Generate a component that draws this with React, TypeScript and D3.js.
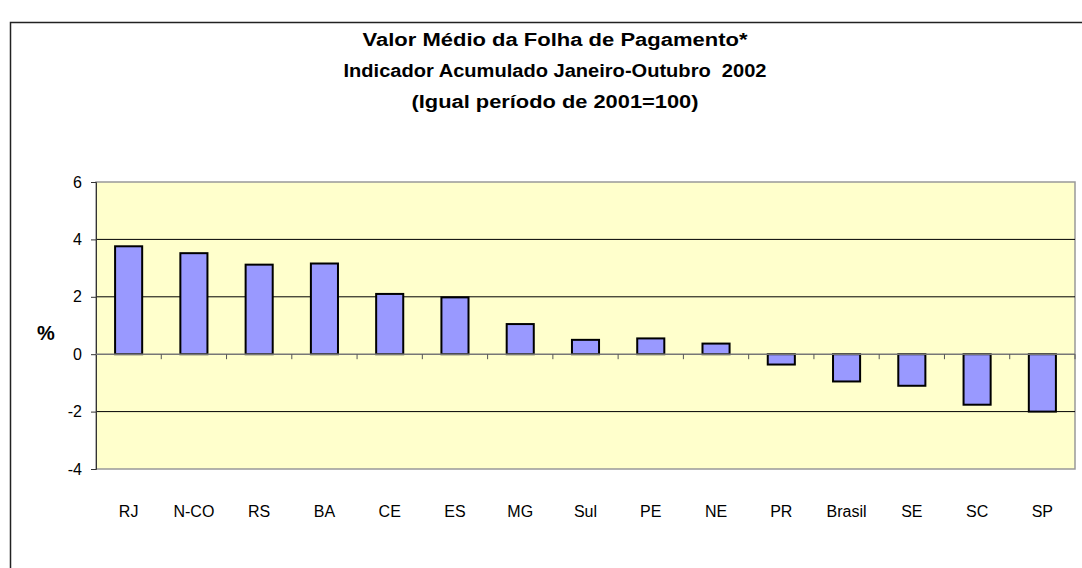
import * as d3 from 'd3';
import { useEffect, useRef } from 'react';

// regions, in the order shown
const categories = ['RJ', 'N-CO', 'RS', 'BA', 'CE', 'ES', 'MG', 'Sul', 'PE', 'NE', 'PR', 'Brasil', 'SE', 'SC', 'SP'];
// accumulated variation (%)
const values = [3.76, 3.52, 3.12, 3.16, 2.1, 1.98, 1.05, 0.5, 0.55, 0.37, -0.36, -0.95, -1.1, -1.76, -2.0];
const yTicks = [-4, -2, 0, 2, 4, 6];
const titleLines = [
  'Valor Médio da Folha de Pagamento*',
  'Indicador Acumulado Janeiro-Outubro  2002',
  '(Igual período de 2001=100)',
];
const titleWidths = [385, 423, 287];

export default function App() {
  const svgRef = useRef<SVGSVGElement>(null);

  useEffect(() => {
    const w = 1082;
    const h = 568;
    const svg = d3.select(svgRef.current);
    svg.selectAll('*').remove();
    svg.attr('width', w).attr('height', h).style('font-family', 'Arial, "Liberation Sans", sans-serif');

    // chart frame
    svg.append('rect')
      .attr('x', 10.5).attr('y', 22.5)
      .attr('width', w).attr('height', h)
      .attr('fill', 'white')
      .attr('stroke', '#222').attr('stroke-width', 1.5);

    // title
    svg.append('g').selectAll('text')
      .data(titleLines)
      .enter().append('text')
      .attr('x', 555)
      .attr('y', (d, i) => 46 + i * 31)
      .attr('text-anchor', 'middle')
      .attr('textLength', (d, i) => titleWidths[i])
      .attr('lengthAdjust', 'spacingAndGlyphs')
      .style('font-size', '18px')
      .style('font-weight', 'bold')
      .style('white-space', 'pre')
      .text(d => d);

    const left = 96, right = 1075, top = 182, bottom = 469;

    const xScale = d3.scaleBand()
      .domain(categories)
      .range([left, right])
      .paddingInner(0.585)
      .paddingOuter(0.2925);

    const yScale = d3.scaleLinear()
      .domain([-4, 6])
      .range([bottom, top]);

    // plot area
    svg.append('rect')
      .attr('x', left).attr('y', top)
      .attr('width', right - left).attr('height', bottom - top)
      .attr('fill', '#ffffcc')
      .attr('stroke', '#999').attr('stroke-width', 1.5);

    // grid lines
    svg.append('g').selectAll('line')
      .data(yTicks.filter(t => t !== 0 && t !== -4 && t !== 6))
      .enter().append('line')
      .attr('x1', left).attr('x2', right)
      .attr('y1', d => yScale(d)).attr('y2', d => yScale(d))
      .attr('stroke', '#000').attr('stroke-width', 1);

    // y axis
    const yAxis = d3.axisLeft(yScale).tickValues(yTicks).tickSize(5).tickFormat(d => String(d));
    const ya = svg.append('g')
      .attr('transform', `translate(${left},0)`)
      .call(yAxis);
    ya.select('.domain').attr('stroke', '#333');
    ya.selectAll('.tick line').attr('stroke', '#333');
    ya.selectAll('.tick text')
      .attr('x', -14)
      .attr('fill', '#000')
      .style('font-size', '16px')
      .style('font-family', 'Arial, "Liberation Sans", sans-serif');

    // bars
    svg.append('g').selectAll('rect')
      .data(values)
      .enter().append('rect')
      .attr('x', (d, i) => xScale(categories[i])!)
      .attr('y', d => yScale(Math.max(0, d)))
      .attr('width', xScale.bandwidth())
      .attr('height', d => Math.abs(yScale(d) - yScale(0)))
      .attr('fill', '#9999ff')
      .attr('stroke', '#000')
      .attr('stroke-width', 2);

    // zero line with category ticks
    const step = xScale.step();
    svg.append('line')
      .attr('x1', left).attr('x2', right)
      .attr('y1', yScale(0)).attr('y2', yScale(0))
      .attr('stroke', '#777').attr('stroke-width', 1.5);
    svg.append('g').selectAll('line')
      .data(d3.range(1, categories.length + 1))
      .enter().append('line')
      .attr('x1', d => left + d * step).attr('x2', d => left + d * step)
      .attr('y1', yScale(0)).attr('y2', yScale(0) + 5)
      .attr('stroke', '#555').attr('stroke-width', 1);

    // category labels
    svg.append('g').selectAll('text')
      .data(categories)
      .enter().append('text')
      .attr('x', d => xScale(d)! + xScale.bandwidth() / 2)
      .attr('y', 517)
      .attr('text-anchor', 'middle')
      .style('font-size', '16px')
      .text(d => d);

    // y title
    svg.append('text')
      .attr('x', 46).attr('y', 340)
      .attr('text-anchor', 'middle')
      .style('font-size', '20px')
      .style('font-weight', 'bold')
      .text('%');
  });

  return (
    <div style={{ position: 'absolute', left: 0, top: 0 }}>
      <svg ref={svgRef} style={{ display: 'block' }}></svg>
    </div>
  );
}
